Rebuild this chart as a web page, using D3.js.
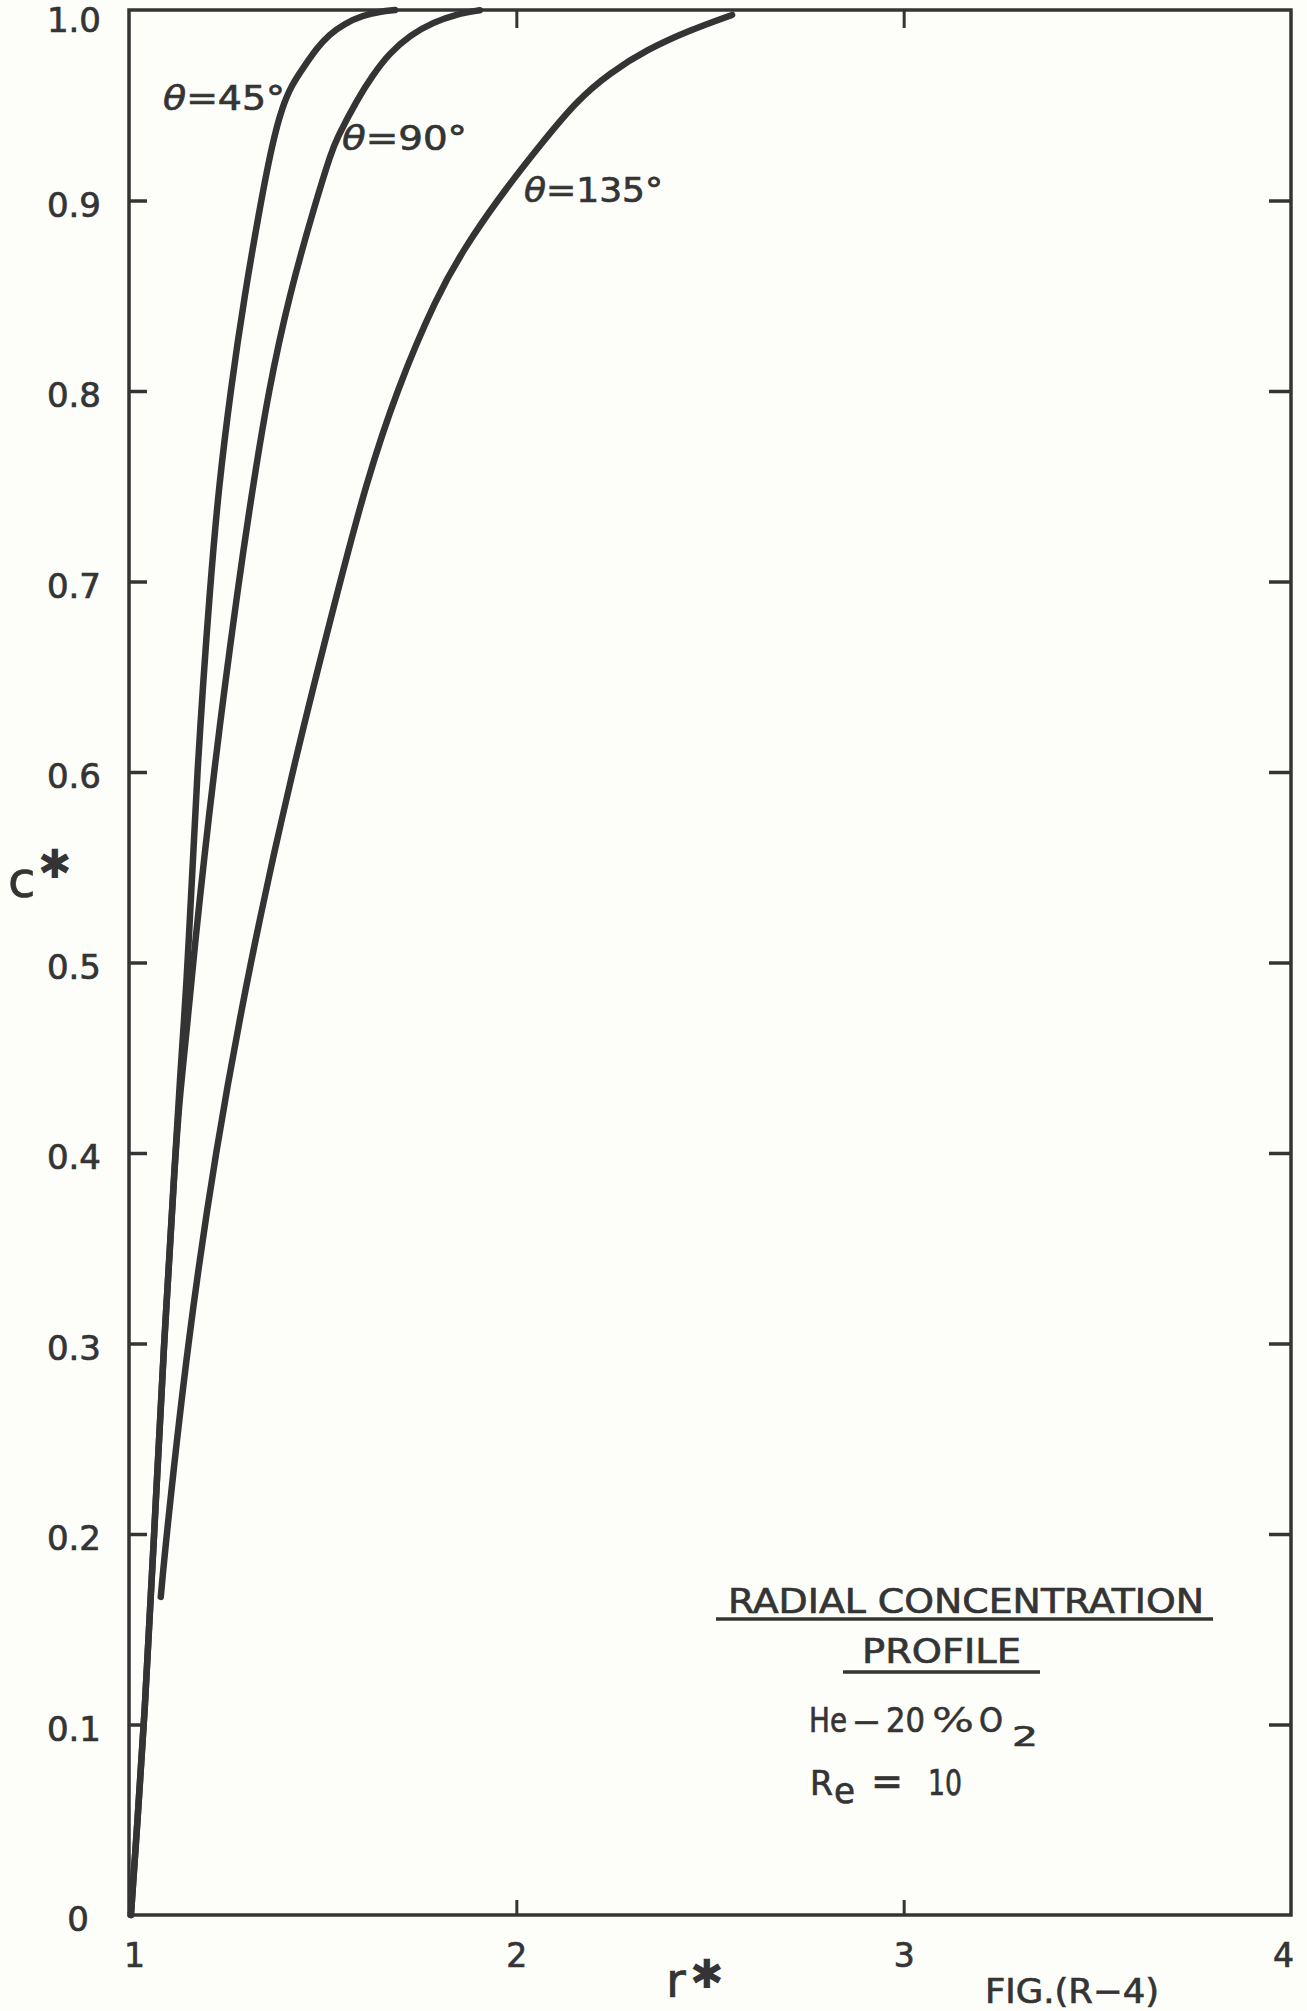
<!DOCTYPE html>
<html><head><meta charset="utf-8">
<script src="https://cdn.jsdelivr.net/npm/d3@7"></script>
<style>html,body{margin:0;padding:0;background:#fdfdf9;} svg{display:block;}</style>
</head><body>
<svg id="chart" width="1307" height="2011"></svg>
<script>
// ---- data ----
const rTicks = [1, 2, 3, 4];
const cTicks = [0, 0.1, 0.2, 0.3, 0.4, 0.5, 0.6, 0.7, 0.8, 0.9, 1.0];
const seriesLabels = ["45°", "90°", "135°"];
// [r*, c*]
const theta45 = [[1.005,0.0],[1.022,0.05],[1.039,0.10],[1.065,0.20],[1.090,0.30],[1.120,0.40],
  [1.132,0.44],[1.142,0.47],[1.152,0.50],[1.175,0.60],[1.210,0.70],[1.232,0.75],[1.262,0.80],
  [1.298,0.85],[1.341,0.90],[1.369,0.929],[1.395,0.949],[1.421,0.961],[1.451,0.970],[1.485,0.980],
  [1.516,0.987],[1.558,0.993],[1.602,0.997],[1.648,0.9992],[1.687,1.0]];
const theta90 = [[1.005,0.0],[1.022,0.05],[1.039,0.10],[1.065,0.20],[1.090,0.30],[1.120,0.40],
  [1.131,0.43],[1.152,0.47],[1.165,0.50],[1.218,0.60],[1.283,0.70],[1.320,0.75],[1.360,0.80],
  [1.413,0.85],[1.483,0.90],[1.522,0.925],[1.535,0.932],[1.589,0.953],[1.630,0.966],[1.671,0.977],
  [1.726,0.987],[1.788,0.9937],[1.842,0.9976],[1.906,0.9999]];
const theta135 = [[1.082,0.167],[1.097,0.20],[1.151,0.30],[1.222,0.40],[1.312,0.50],[1.420,0.60],
  [1.545,0.70],[1.610,0.75],[1.690,0.80],[1.795,0.85],[1.866,0.875],[1.950,0.90],[2.051,0.9265],
  [2.157,0.9528],[2.242,0.967],[2.335,0.979],[2.449,0.9895],[2.557,0.9974]];

// ---- layout ----
const W = 1307, H = 2011;
const ink = "#343434";
const font = "'DejaVu Sans', sans-serif";
const svg = d3.select("#chart");
const x = d3.scaleLinear().domain([1, 4]).range([129, 1291]);
const y = d3.scaleLinear().domain([0, 1]).range([1915, 10]);

svg.append("rect").attr("width", W).attr("height", H).attr("fill", "#fdfdf9");

// frame
svg.append("rect")
  .attr("x", x(1)).attr("y", y(1))
  .attr("width", x(4) - x(1)).attr("height", y(0) - y(1))
  .attr("fill", "none").attr("stroke", ink).attr("stroke-width", 3.5);

const heavy = sel => sel.attr("font-family", font).attr("fill", ink)
  .attr("stroke", ink).attr("stroke-width", 0.7);

// left axis
const gL = svg.append("g").attr("transform", `translate(${x(1)},0)`)
  .call(d3.axisLeft(y).tickValues(cTicks).tickSize(-18).tickPadding(28)
    .tickFormat(d => d === 0 ? "0" : d3.format(".1f")(d)));
gL.select(".domain").remove();
gL.selectAll(".tick line").attr("stroke", ink).attr("stroke-width", 3.5);
gL.selectAll(".tick").filter(d => d === 0 || d === 1).select("line").remove();
gL.selectAll("text").call(heavy).attr("font-size", 34).attr("dy", "0.46em");
gL.selectAll("text").filter(d => d === 0).attr("x", -40);
gL.selectAll("text").filter(d => d === 1).attr("dy", "0.62em");

// right axis (ticks only)
const gR = svg.append("g").attr("transform", `translate(${x(4)},0)`)
  .call(d3.axisRight(y).tickValues(cTicks.slice(1, -1)).tickSize(-22).tickFormat(""));
gR.select(".domain").remove();
gR.selectAll(".tick line").attr("stroke", ink).attr("stroke-width", 3.5);

// bottom axis
const gB = svg.append("g").attr("transform", `translate(0,${y(0)})`)
  .call(d3.axisBottom(x).tickValues(rTicks).tickSize(-15).tickPadding(29).tickFormat(d3.format("d")));
gB.select(".domain").remove();
gB.selectAll(".tick line").attr("stroke", ink).attr("stroke-width", 3);
gB.selectAll(".tick").filter(d => d === 1 || d === 4).select("line").remove();
gB.selectAll("text").call(heavy).attr("font-size", 33);
gB.selectAll("text").filter(d => d === 1).attr("x", 5);
gB.selectAll("text").filter(d => d === 4).attr("x", -8);

// top axis (ticks only)
const gT = svg.append("g").attr("transform", `translate(0,${y(1)})`)
  .call(d3.axisTop(x).tickValues(rTicks.slice(1, -1)).tickSize(-18).tickFormat(""));
gT.select(".domain").remove();
gT.selectAll(".tick line").attr("stroke", ink).attr("stroke-width", 3);

// curves
const line = d3.line().x(d => x(d[0])).y(d => y(d[1])).curve(d3.curveBasis);
[theta45, theta90, theta135].forEach(s => {
  svg.append("path").datum(s).attr("d", line)
    .attr("fill", "none").attr("stroke", ink).attr("stroke-width", 6.5)
    .attr("stroke-linecap", "round").attr("stroke-linejoin", "round");
});

// curve labels
const labelPos = [{x: 163, y: 110, w: 122}, {x: 342, y: 150, w: 125}, {x: 524, y: 202, w: 139}];
seriesLabels.forEach((lab, i) => {
  const t = svg.append("text").attr("x", labelPos[i].x).attr("y", labelPos[i].y)
    .call(heavy).attr("font-size", 34)
    .attr("textLength", labelPos[i].w).attr("lengthAdjust", "spacingAndGlyphs");
  t.append("tspan").attr("font-style", "italic").text("θ");
  t.append("tspan").text("=" + lab);
});

// axis titles
const cT = svg.append("text").attr("x", 8).attr("y", 897).call(heavy).attr("font-size", 50);
cT.append("tspan").text("c");
cT.append("tspan").attr("x", 38).attr("y", 878).attr("font-size", 40).attr("stroke-width", 0).text("✱");

const rT = svg.append("text").attr("x", 666).attr("y", 1997).call(heavy).attr("font-size", 48);
rT.append("tspan").text("r");
rT.append("tspan").attr("x", 690).attr("y", 1988).attr("font-size", 40).attr("stroke-width", 0).text("✱");

// legend block
const txt = (xx, yy, size, w, s) => svg.append("text").attr("x", xx).attr("y", yy)
  .call(heavy).attr("font-size", size)
  .attr("textLength", w).attr("lengthAdjust", "spacingAndGlyphs").text(s);

txt(728, 1613, 34, 476, "RADIAL CONCENTRATION");
svg.append("line").attr("x1", 716).attr("x2", 1213).attr("y1", 1619).attr("y2", 1619)
  .attr("stroke", ink).attr("stroke-width", 3.5);
txt(862, 1663, 34, 159, "PROFILE");
svg.append("line").attr("x1", 843).attr("x2", 1040).attr("y1", 1672).attr("y2", 1672)
  .attr("stroke", ink).attr("stroke-width", 3.5);

txt(809, 1732, 34, 38, "He");
txt(854, 1732, 34, 25, "—");
txt(886, 1732, 34, 39, "20");
txt(932, 1732, 34, 42, "%").attr("stroke-width", 0.3);
txt(979, 1732, 34, 24, "O");
txt(1012, 1746, 27, 26, "2");

txt(810, 1795, 34, 23, "R");
txt(834, 1803, 36, 21, "e");
txt(871, 1795, 40, 32, "=");
txt(928, 1795, 35, 34, "10");

txt(985, 2003, 34, 174, "FIG.(R−4)");
</script>
</body></html>
